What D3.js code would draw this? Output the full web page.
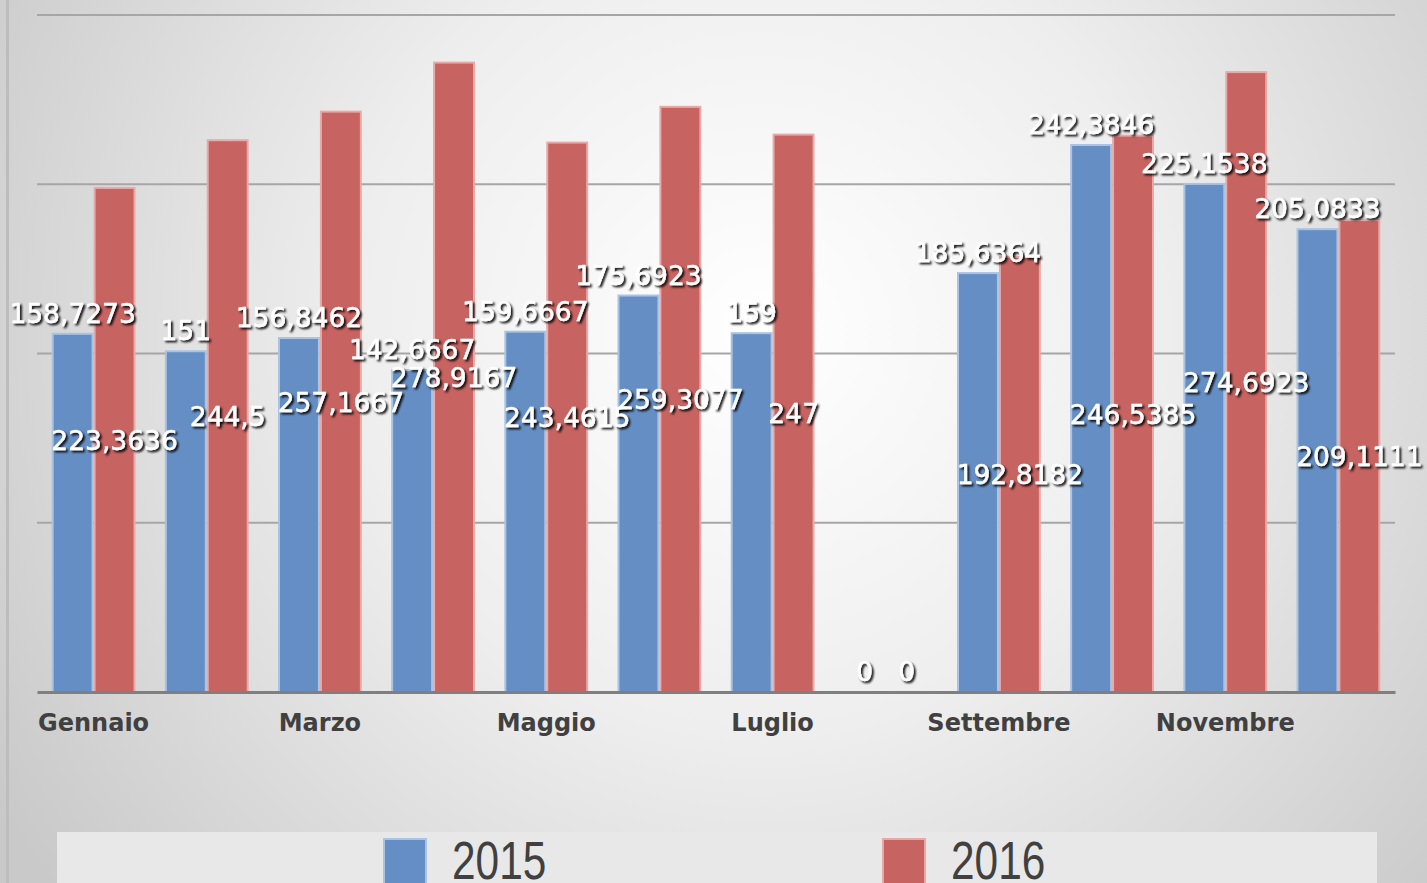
<!DOCTYPE html>
<html>
<head>
<meta charset="utf-8">
<script src="https://cdn.jsdelivr.net/npm/d3@7"></script>
<style>
  html, body { margin: 0; padding: 0; overflow: hidden; }
  svg { display: block; }
</style>
</head>
<body>
<div id="chart"></div>
<script>
// chart data
const months = ["Gennaio", "Febbraio", "Marzo", "Aprile", "Maggio", "Giugno",
  "Luglio", "Agosto", "Settembre", "Ottobre", "Novembre", "Dicembre"];
const series = ["2015", "2016"];
const values2015 = [158.7273, 151, 156.8462, 142.6667, 159.6667, 175.6923,
  159, 0, 185.6364, 242.3846, 225.1538, 205.0833];
const values2016 = [223.3636, 244.5, 257.1667, 278.9167, 243.4615, 259.3077,
  247, 0, 192.8182, 246.5385, 274.6923, 209.1111];
const yTicks = [0, 75, 150, 225, 300];

const width = 1427, height = 883;
const fill = { "2015": "#658fc4", "2016": "#c76361" };
const stroke = { "2015": "#a9c3e3", "2016": "#e8a9a8" };

const rows = months.map((m, i) => ({ month: m, "2015": values2015[i], "2016": values2016[i] }));

const svg = d3.select("#chart").append("svg")
  .attr("width", width)
  .attr("height", height);

const defs = svg.append("defs");
const grad = defs.append("radialGradient")
  .attr("id", "bg")
  .attr("gradientUnits", "userSpaceOnUse")
  .attr("cx", 760).attr("cy", 330).attr("r", 900);
grad.append("stop").attr("offset", "0%").attr("stop-color", "#ffffff");
grad.append("stop").attr("offset", "45%").attr("stop-color", "#eeeeee");
grad.append("stop").attr("offset", "100%").attr("stop-color", "#c9c9c9");

const shadow = defs.append("filter").attr("id", "shadow")
  .attr("x", "-20%").attr("y", "-30%").attr("width", "140%").attr("height", "160%");
shadow.append("feDropShadow")
  .attr("dx", 2).attr("dy", 2).attr("stdDeviation", 1.3)
  .attr("flood-color", "#000").attr("flood-opacity", 0.95);

svg.append("rect").attr("width", width).attr("height", height).attr("fill", "url(#bg)");

// left frame edge
svg.append("line")
  .attr("x1", 7.5).attr("x2", 7.5).attr("y1", 0).attr("y2", height)
  .attr("stroke", "#bdbdbd").attr("stroke-width", 3);

const x0 = d3.scaleBand().domain(months).range([37, 1395]);
const x1 = d3.scaleBand().domain(series).range([0, x0.bandwidth()])
  .paddingInner(0).paddingOuter(0.35);
const y = d3.scaleLinear().domain([0, 300]).range([692, 15]);

// gridlines
svg.append("g")
  .selectAll("line")
  .data(yTicks.slice(1))
  .join("line")
  .attr("x1", 37).attr("x2", 1395)
  .attr("y1", d => y(d)).attr("y2", d => y(d))
  .attr("stroke", "#a6a6a6").attr("stroke-width", 2);

// bars
const groups = svg.append("g")
  .selectAll("g")
  .data(rows)
  .join("g")
  .attr("transform", d => `translate(${x0(d.month)},0)`);

groups.selectAll("rect")
  .data(d => series.map(s => ({ key: s, value: d[s] })).filter(d => d.value > 0))
  .join("rect")
  .attr("x", d => x1(d.key) + 1)
  .attr("y", d => y(d.value))
  .attr("width", x1.bandwidth() - 2)
  .attr("height", d => y(0) - y(d.value))
  .attr("fill", d => fill[d.key])
  .attr("stroke", d => stroke[d.key])
  .attr("stroke-width", 2);

// x axis
const xAxis = d3.axisBottom(x0)
  .tickValues(months.filter((m, i) => i % 2 === 0))
  .tickSize(0)
  .tickPadding(22);

const axisG = svg.append("g")
  .attr("transform", `translate(0,${y(0)})`)
  .call(xAxis);
axisG.select(".domain").attr("stroke", "#7f7f7f").attr("stroke-width", 3);
axisG.selectAll("text")
  .attr("fill", "#404040")
  .style("font-family", "'DejaVu Sans', sans-serif")
  .style("font-weight", "bold")
  .style("font-size", "24px");

// data labels, drawn on top of every bar
const fmt = v => String(v).replace(".", ",");
const labelData = [];
rows.forEach(r => series.forEach(s => labelData.push({ month: r.month, key: s, value: r[s] })));

svg.append("g")
  .selectAll("text")
  .data(labelData)
  .join("text")
  .attr("x", d => x0(d.month) + x1(d.key) + x1.bandwidth() / 2)
  .attr("y", d => {
    if (d.key === "2015") return y(d.value) - 11;
    return Math.min((y(0) + y(d.value)) / 2 + 10, y(0) - 11);
  })
  .attr("text-anchor", "middle")
  .attr("fill", "#ffffff")
  .attr("stroke", "#ffffff")
  .attr("stroke-width", 0.4)
  .attr("filter", "url(#shadow)")
  .style("font-family", "'DejaVu Sans', sans-serif")
  .style("font-size", "26.5px")
  .text(d => fmt(d.value));

// legend
const legend = svg.append("g");
legend.append("rect")
  .attr("x", 57).attr("y", 832).attr("width", 1320).attr("height", 60)
  .attr("fill", "#e8e8e8");

const legendX = { "2015": 383, "2016": 882 };
const items = legend.selectAll("g")
  .data(series)
  .join("g")
  .attr("transform", d => `translate(${legendX[d]},0)`);
items.append("rect")
  .attr("x", 1).attr("y", 839).attr("width", 42).attr("height", 50)
  .attr("fill", d => fill[d])
  .attr("stroke", d => stroke[d]).attr("stroke-width", 2);
items.append("text")
  .attr("transform", "translate(69,879) scale(0.8,1)")
  .attr("fill", "#404040")
  .style("font-family", "'Liberation Sans', sans-serif")
  .style("font-size", "53px")
  .text(d => d);
</script>
</body>
</html>
